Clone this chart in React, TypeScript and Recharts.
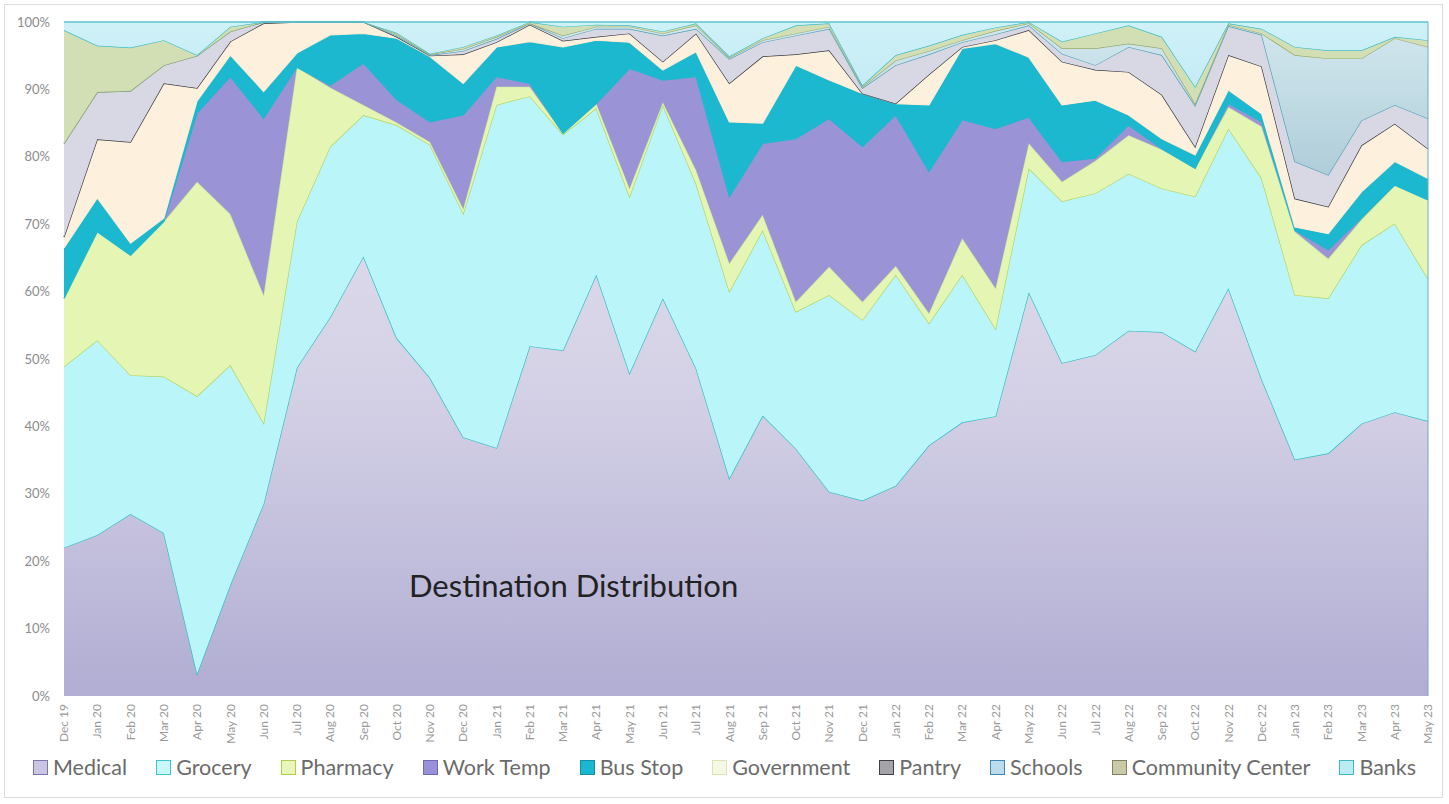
import React from "react";
import { Area, AreaChart, ReferenceLine, XAxis, YAxis } from "recharts";

const months = [
  "Dec 19", "Jan 20", "Feb 20", "Mar 20", "Apr 20", "May 20", "Jun 20", "Jul 20", "Aug 20", "Sep 20",
  "Oct 20", "Nov 20", "Dec 20", "Jan 21", "Feb 21", "Mar 21", "Apr 21", "May 21", "Jun 21", "Jul 21",
  "Aug 21", "Sep 21", "Oct 21", "Nov 21", "Dec 21", "Jan 22", "Feb 22", "Mar 22", "Apr 22", "May 22",
  "Jun 22", "Jul 22", "Aug 22", "Sep 22", "Oct 22", "Nov 22", "Dec 22", "Jan 23", "Feb 23", "Mar 23",
  "Apr 23", "May 23",
];

// share of trips per destination, in %
const medical = [22.0, 23.9, 27.0, 24.2, 3.3, 16.5, 28.5, 48.7, 56.2, 65.2, 53.1, 47.2, 38.4, 36.8, 51.9, 51.3, 62.5, 47.9, 59.0, 48.6, 32.3, 41.6, 36.7, 30.3, 29.0, 31.2, 37.2, 40.6, 41.5, 59.9, 49.4, 50.6, 54.2, 54.0, 51.1, 60.5, 47.0, 35.1, 36.0, 40.4, 42.1, 40.8];
const grocery = [26.9, 28.9, 20.6, 23.2, 41.2, 32.6, 12.0, 21.7, 25.3, 21.0, 31.6, 34.6, 33.2, 50.9, 37.1, 32.0, 24.7, 26.2, 28.7, 27.4, 27.7, 27.5, 20.3, 29.2, 26.8, 31.3, 18.1, 21.9, 13.0, 18.4, 24.0, 24.0, 23.3, 21.3, 23.0, 23.7, 29.8, 24.4, 23.0, 26.5, 28.0, 21.1];
const pharmacy = [10.1, 16.1, 17.8, 23.0, 31.8, 22.4, 19.0, 22.9, 8.8, 1.5, 0.4, 0.4, 0.7, 2.7, 1.4, 0.2, 0.7, 1.2, 0.4, 2.0, 4.2, 2.3, 1.5, 4.2, 2.7, 1.3, 1.5, 5.4, 6.0, 3.7, 2.9, 4.8, 5.7, 5.8, 4.2, 3.2, 7.7, 9.4, 5.9, 3.8, 5.7, 11.7];
const workTemp = [0, 0, 0, 0, 10.2, 20.4, 26.2, 0, 0.3, 6.2, 3.4, 3.0, 13.9, 1.5, 0.5, 0, 0, 17.8, 3.3, 13.9, 9.9, 10.6, 24.2, 22.0, 23.0, 22.4, 21.0, 17.6, 23.7, 3.9, 3.0, 0.4, 1.5, 0.1, 0, 0.5, 0.7, 0.2, 1.3, 0.2, 0, 0];
const busStop = [7.5, 5.0, 1.8, 0.5, 1.8, 3.2, 4.0, 2.1, 7.5, 4.4, 9.1, 9.7, 4.7, 4.4, 6.2, 12.8, 9.4, 3.9, 1.5, 3.7, 11.1, 3.0, 10.9, 5.7, 7.9, 1.7, 9.9, 10.6, 12.6, 8.9, 8.4, 8.6, 1.5, 1.5, 2.0, 2.0, 1.2, 0.5, 2.4, 3.9, 3.5, 3.2];
const government = [1.6, 8.7, 15.0, 20.0, 1.9, 2.0, 10.1, 4.6, 1.9, 1.7, 0.2, 0.1, 4.3, 0.7, 2.5, 0.9, 0.5, 1.3, 1.2, 2.7, 5.7, 9.9, 1.6, 4.4, 0, 0, 4.5, 0.2, 0.5, 4.0, 6.4, 4.5, 6.4, 6.5, 1.2, 5.2, 7.0, 4.2, 4.0, 6.9, 5.6, 4.4];
const pantry = [13.9, 7.0, 7.6, 2.7, 4.8, 1.5, 0.2, 0, 0, 0, 0.2, 0.1, 0.5, 0.5, 0.2, 0.4, 1.2, 0.7, 3.9, 0.7, 3.6, 2.1, 2.8, 3.2, 0.8, 5.7, 3.0, 0.7, 0.9, 0.7, 1.2, 0.7, 3.7, 5.9, 6.1, 4.3, 4.7, 5.5, 4.7, 3.7, 2.8, 4.5];
const schools = [0, 0, 0, 0, 0, 0, 0, 0, 0, 0, 0.2, 0.1, 0.3, 0.3, 0, 0.4, 0.3, 0.3, 0.3, 0.5, 0.2, 0.3, 0.3, 0.3, 0.2, 0.7, 0.5, 0.3, 0.5, 0.3, 0.8, 2.5, 0.5, 1.0, 0.3, 0.2, 0.2, 15.8, 17.3, 9.2, 9.9, 10.6];
const community = [16.8, 6.9, 6.4, 3.7, 0.1, 0.7, 0, 0, 0, 0, 0.2, 0.1, 0.3, 0.2, 0.2, 1.3, 0.3, 0.2, 0.3, 0.3, 0.2, 0.3, 1.2, 0.5, 0.2, 0.8, 0.8, 0.8, 0.5, 0.2, 1.0, 2.2, 2.7, 1.7, 2.5, 0.2, 0.7, 1.2, 1.2, 1.2, 0.2, 1.0];
const banks = [1.2, 3.5, 3.8, 2.7, 4.9, 0.7, 0, 0, 0, 0, 1.6, 4.7, 3.7, 2.0, 0, 0.7, 0.4, 0.5, 1.4, 0.2, 5.1, 2.4, 0.5, 0.2, 9.4, 4.9, 3.5, 1.9, 0.8, 0, 2.9, 1.7, 0.5, 2.2, 9.6, 0.2, 1.0, 3.7, 4.2, 4.2, 2.2, 2.7];

const yTicks = [0, 0.1, 0.2, 0.3, 0.4, 0.5, 0.6, 0.7, 0.8, 0.9, 1];

// fill = area colour, line = colour of the edge drawn on top of it,
// box/border = legend swatch
const SERIES = [
  { key: "medical", name: "Medical", values: medical, fill: "url(#gMedical)", line: "#2dbdbf", box: "#c9c5e2", border: "#7c76aa" },
  { key: "grocery", name: "Grocery", values: grocery, fill: "#b9f5f9", line: "#b2d35a", box: "#c9f8fb", border: "#3cc6cf" },
  { key: "pharmacy", name: "Pharmacy", values: pharmacy, fill: "#e5f6b4", line: "#c9e59a", box: "#e9f6ba", border: "#b0cb52" },
  { key: "workTemp", name: "Work Temp", values: workTemp, fill: "#9a94d6", line: "#22b5cc", box: "#9a92d8", border: "#7069b8" },
  { key: "busStop", name: "Bus Stop", values: busStop, fill: "#1bb8d0", line: "#f8e8cc", box: "#1ab8d0", border: "#1190a8" },
  { key: "government", name: "Government", values: government, fill: "#fdf0dc", line: "#3a3a40", box: "#f5f8e2", border: "#d9e3b4" },
  { key: "pantry", name: "Pantry", values: pantry, fill: "#d8d8e4", line: "#4c9fb6", box: "#a3a3a8", border: "#404044" },
  { key: "schools", name: "Schools", values: schools, fill: "url(#gSchools)", line: "#98a86a", box: "#bcdcec", border: "#3a8ab0" },
  { key: "community", name: "Community Center", values: community, fill: "#d2dfb4", line: "#3dbcc8", box: "#cacaa9", border: "#828262" },
  { key: "banks", name: "Banks", values: banks, fill: "url(#gBanks)", line: "#5cc2ce", box: "#bbecf1", border: "#41b8c0" },
];

const rows = months.map((m, i) => {
  const row: Record<string, string | number> = { month: m };
  SERIES.forEach((s) => {
    row[s.key] = s.values[i];
  });
  return row;
});

const XTick = ({ x, y, payload }: any) => (
  <text
    x={x}
    y={y}
    dy="0.35em"
    transform={`rotate(-90 ${x} ${y})`}
    textAnchor="end"
    fontSize={12}
    fill="#9a9a9a"
    fontFamily="Lato"
  >
    {payload.value}
  </text>
);

export default function App() {
  return (
    <div style={{ position: "relative", width: 1449, height: 804, background: "#fff", fontFamily: "Lato" }}>
      <style>{`body{margin:0}`}</style>
      <div
        style={{
          position: "absolute",
          left: 4,
          top: 4,
          width: 1439,
          height: 794,
          border: "1px solid #dcdcdc",
          boxSizing: "border-box",
        }}
      />
      <AreaChart
        width={1449}
        height={804}
        data={rows}
        stackOffset="expand"
        margin={{ top: 22, right: 21, left: 0, bottom: 58 }}
      >
        <defs>
          <linearGradient id="gMedical" gradientUnits="userSpaceOnUse" x1="0" y1="22" x2="0" y2="696">
            <stop offset="0%" stopColor="#e6e4f0" />
            <stop offset="55%" stopColor="#d4d1e6" />
            <stop offset="100%" stopColor="#b1add3" />
          </linearGradient>
          <linearGradient id="gSchools" gradientUnits="userSpaceOnUse" x1="0" y1="22" x2="0" y2="200">
            <stop offset="0%" stopColor="#d3e8ef" />
            <stop offset="100%" stopColor="#a9c9d5" />
          </linearGradient>
          <linearGradient id="gBanks" gradientUnits="userSpaceOnUse" x1="0" y1="22" x2="0" y2="120">
            <stop offset="0%" stopColor="#cff1f8" />
            <stop offset="100%" stopColor="#bfe8f3" />
          </linearGradient>
        </defs>
        <XAxis
          dataKey="month"
          interval={0}
          height={50}
          axisLine={false}
          tickLine={false}
          tick={<XTick />}
        />
        <YAxis
          width={64}
          domain={[0, 1]}
          ticks={yTicks}
          tickFormatter={(v: number) => `${Math.round(v * 100)}%`}
          axisLine={false}
          tickLine={false}
          tickSize={0}
          tickMargin={14}
          tick={{ fontSize: 13, fill: "#8c8c8c", fontFamily: "Lato" }}
        />
        {SERIES.map((s) => (
          <Area
            key={s.key}
            type="linear"
            dataKey={s.key}
            name={s.name}
            stackId="1"
            fill={s.fill}
            fillOpacity={1}
            stroke={s.line}
            strokeWidth={1.3}
            dot={false}
            activeDot={false}
            isAnimationActive={false}
          />
        ))}
        <ReferenceLine x="May 23" stroke="#6aaebc" strokeWidth={1} />
      </AreaChart>

      <div
        style={{
          position: "absolute",
          left: 409,
          top: 568,
          fontSize: 31,
          lineHeight: "34px",
          color: "#222",
          fontFamily: "Lato",
          whiteSpace: "nowrap",
        }}
      >
        Destination Distribution
      </div>

      <div
        style={{
          position: "absolute",
          left: 0,
          top: 754,
          width: 1449,
          display: "flex",
          justifyContent: "center",
          gap: 29,
          fontSize: 21.5,
          color: "#6b6b6b",
          fontFamily: "Lato",
        }}
      >
        {SERIES.map((s) => (
          <div key={s.key} style={{ display: "flex", alignItems: "center" }}>
            <span
              style={{
                display: "inline-block",
                width: 13,
                height: 13,
                background: s.box,
                border: `1.5px solid ${s.border}`,
                marginRight: 5,
              }}
            />
            {s.name}
          </div>
        ))}
      </div>
    </div>
  );
}
